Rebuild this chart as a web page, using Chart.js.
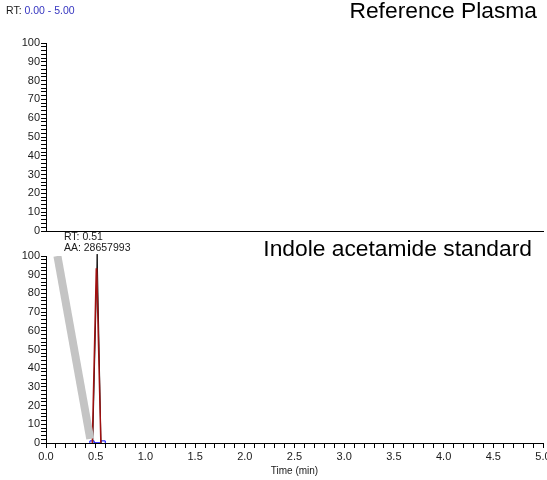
<!DOCTYPE html>
<html>
<head>
<meta charset="utf-8">
<script src="https://cdn.jsdelivr.net/npm/chart.js@4"></script>
<style>
  body { margin: 0; background: #fff; }
  #wrap { position: relative; width: 547px; height: 480px; overflow: hidden; background: #fff; }
  #wrap canvas { position: absolute; left: 0; }
  #topChart { top: 0; }
  #bottomChart { top: 228px; }
</style>
</head>
<body>
<div id="wrap">
  <canvas id="topChart" width="560" height="240"></canvas>
  <canvas id="bottomChart" width="560" height="252"></canvas>
</div>
<script>
// Reference Plasma trace (nothing detected in the window)
const plasmaTime = [];
const plasmaIntensity = [];

// Indole acetamide standard
const bandTime = [0.115, 0.445];
const bandIntensity = [100, 2.2];

const rawTime = [0.47, 0.515, 0.553];
const rawIntensity = [0, 101, 0];

const fitTime = [0.466, 0.506, 0.51, 0.552];
const fitIntensity = [0, 93, 93.5, 0];

const baseTime = [0.463, 0.575];
const baseIntensity = [0, 0];

const peakRT = 0.51;
const peakArea = 28657993;

const timeRange = [0, 5];
const timeLabelStep = 0.5;
const intensityLabelStep = 10;

const FONT = 'Liberation Sans, Arial, sans-serif';
Chart.defaults.font.family = FONT;
Chart.defaults.color = '#1a1a1a';

function toPoints(xs, ys) {
  return xs.map((x, i) => ({ x: x, y: ys[i] }));
}

function yAxis() {
  return {
    type: 'linear',
    min: 0,
    max: 100,
    afterFit: function (scale) { scale.width = 46; },
    border: { display: true, color: '#000', width: 1 },
    grid: { drawOnChartArea: false, tickLength: 5, tickColor: '#000', tickWidth: 1 },
    ticks: {
      stepSize: 2,
      autoSkip: false,
      padding: 1,
      font: { size: 11 },
      callback: function (v) { return v % intensityLabelStep === 0 ? v : ''; }
    }
  };
}

// text drawn on top of each panel
const topText = {
  id: 'topText',
  afterDraw(chart) {
    const ctx = chart.ctx;
    ctx.save();
    ctx.textBaseline = 'middle';
    ctx.font = '10.5px ' + FONT;
    ctx.fillStyle = '#1a1a1a';
    ctx.textAlign = 'left';
    ctx.fillText('RT: ', 6, 11);
    const w = ctx.measureText('RT: ').width;
    ctx.fillStyle = '#3535c0';
    ctx.fillText(timeRange[0].toFixed(2) + ' - ' + timeRange[1].toFixed(2), 6 + w, 11);
    ctx.fillStyle = '#000';
    ctx.font = '22.8px ' + FONT;
    ctx.textAlign = 'right';
    ctx.fillText('Reference Plasma', 537, 12);
    ctx.restore();
  }
};

const bottomText = {
  id: 'bottomText',
  afterDraw(chart) {
    const ctx = chart.ctx;
    const px = chart.scales.x.getPixelForValue(rawTime[1]);
    ctx.save();
    ctx.textBaseline = 'middle';
    ctx.font = '10.5px ' + FONT;
    ctx.fillStyle = '#1a1a1a';
    const aa = 'AA: ' + peakArea;
    const left = px - ctx.measureText(aa).width / 2;
    ctx.textAlign = 'left';
    ctx.fillText('RT: ' + peakRT.toFixed(2), left, 9);
    ctx.fillText(aa, left, 20.5);
    ctx.fillStyle = '#000';
    ctx.font = '22.8px ' + FONT;
    ctx.textAlign = 'right';
    ctx.fillText('Indole acetamide standard', 532, 22);
    ctx.restore();
  }
};

new Chart(document.getElementById('topChart'), {
  type: 'line',
  data: {
    datasets: [{
      data: toPoints(plasmaTime, plasmaIntensity),
      borderColor: '#000',
      borderWidth: 1,
      pointRadius: 0
    }]
  },
  options: {
    responsive: false,
    animation: false,
    layout: { padding: { left: 0, right: 17, top: 43, bottom: 0 } },
    plugins: { legend: { display: false }, tooltip: { enabled: false } },
    scales: {
      x: {
        type: 'linear',
        min: timeRange[0],
        max: timeRange[1],
        afterFit: function (scale) { scale.height = 9; },
        border: { display: true, color: '#000', width: 1 },
        grid: { display: false },
        ticks: { display: false }
      },
      y: yAxis()
    }
  },
  plugins: [topText]
});

new Chart(document.getElementById('bottomChart'), {
  type: 'line',
  data: {
    datasets: [
      {
        data: toPoints(bandTime, bandIntensity),
        borderColor: '#c4c4c4',
        borderWidth: 8,
        borderCapStyle: 'butt',
        pointRadius: 0
      },
      {
        data: toPoints(fitTime, fitIntensity),
        borderColor: '#a01010',
        borderWidth: 1.5,
        pointRadius: 0
      },
      {
        data: toPoints(rawTime, rawIntensity),
        borderColor: '#111',
        borderWidth: 1,
        pointRadius: 0,
        clip: false
      },
      {
        data: toPoints(baseTime, baseIntensity),
        borderColor: '#0000ff',
        borderWidth: 1.5,
        pointStyle: 'rect',
        pointRadius: 3,
        pointBorderColor: '#0000ff',
        pointBackgroundColor: '#fff',
        pointBorderWidth: 1
      }
    ]
  },
  options: {
    responsive: false,
    animation: false,
    layout: { padding: { left: 0, right: 17, top: 28, bottom: 0 } },
    plugins: { legend: { display: false }, tooltip: { enabled: false } },
    scales: {
      x: {
        type: 'linear',
        min: timeRange[0],
        max: timeRange[1],
        afterFit: function (scale) { scale.height = 37; },
        border: { display: true, color: '#000', width: 1 },
        grid: { drawOnChartArea: false, tickLength: 5, tickColor: '#000', tickWidth: 1 },
        ticks: {
          stepSize: 0.1,
          autoSkip: false,
          maxRotation: 0,
          minRotation: 0,
          padding: 2,
          font: { size: 11 },
          callback: function (v) {
            const r = Math.round(v * 10);
            return r % Math.round(timeLabelStep * 10) === 0 ? (r / 10).toFixed(1) : '';
          }
        },
        title: {
          display: true,
          text: 'Time (min)',
          font: { size: 10 },
          padding: { top: 0, bottom: 3 }
        }
      },
      y: yAxis()
    }
  },
  plugins: [bottomText]
});
</script>
</body>
</html>
